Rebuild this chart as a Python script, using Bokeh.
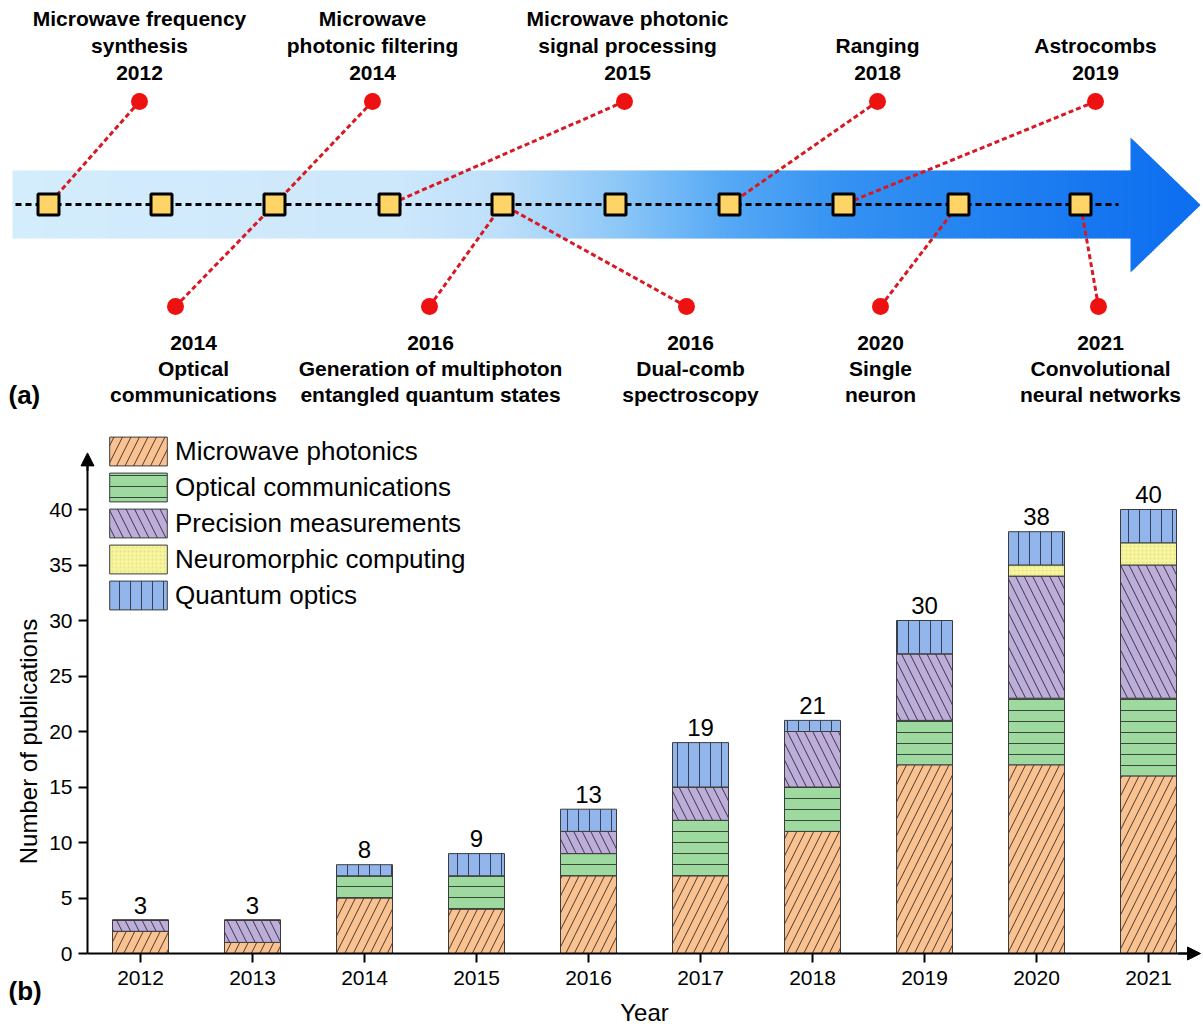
import numpy as np
from bokeh.plotting import figure
from bokeh.models import (Range1d, ColumnDataSource, FixedTicker, Legend, LegendItem, Arrow,
                          NormalHead)
from bokeh.embed import file_html
from bokeh.resources import INLINE
from bokeh.core.properties import value

FONT = "Liberation Sans"

# ---------------- data ----------------
years = ["2012", "2013", "2014", "2015", "2016", "2017", "2018", "2019", "2020", "2021"]
microwave = [2, 1, 5, 4, 7, 7, 11, 17, 17, 16]
optical = [0, 0, 2, 3, 2, 5, 4, 4, 6, 7]
precision = [1, 2, 0, 0, 2, 3, 5, 6, 11, 12]
neuromorphic = [0, 0, 0, 0, 0, 0, 0, 0, 1, 2]
quantum = [0, 0, 1, 2, 2, 4, 1, 3, 3, 3]
series_names = ["Microwave photonics", "Optical communications", "Precision measurements",
                "Neuromorphic computing", "Quantum optics"]
y_ticks = [0, 5, 10, 15, 20, 25, 30, 35, 40]

top_titles = [["Microwave frequency", "synthesis"], ["Microwave", "photonic filtering"],
              ["Microwave photonic", "signal processing"], ["Ranging"], ["Astrocombs"]]
top_years = ["2012", "2014", "2015", "2018", "2019"]
bottom_titles = [["Optical", "communications"],
                 ["Generation of multiphoton", "entangled quantum states"],
                 ["Dual-comb", "spectroscopy"], ["Single", "neuron"],
                 ["Convolutional", "neural networks"]]
bottom_years = ["2014", "2016", "2016", "2020", "2021"]

# ---------------- layout constants (page pixels for panel a) ----------------
W, H = 1203, 1030
square_x = [48, 161, 274, 389, 502, 615, 729, 843, 958, 1080]
top_dot_x = [139, 372, 624, 877, 1095]
top_sq = [0, 2, 3, 6, 7]
top_text_x = [139, 372, 627, 877, 1095]
bot_dot_x = [175, 429, 686, 880, 1098]
bot_sq = [2, 4, 4, 8, 9]
bot_text_x = [193, 430, 690, 880, 1100]
AX = 204
TOP_DOT_Y = 101
BOT_DOT_Y = 306
TOP_LINE_Y = [18, 45, 72]
BOT_LINE_Y = [342, 368, 394]

# bar-chart data space: year index -> page x = 140 + 112*i ; value -> page y = 953 - 11.1*v
XC, XS = 140.0, 112.0
YC, YS = 953.0, 11.1
X0 = (87 - XC) / XS          # y-axis position
XEND = (1200 - XC) / XS      # x-axis arrow tip

p = figure(width=W, height=H,
           x_range=Range1d(-XC / XS, (W - XC) / XS),
           y_range=Range1d((YC - H) / YS, YC / YS),
           output_backend="svg", toolbar_location=None, min_border=0)
p.extra_x_ranges = {"px": Range1d(0, W)}
p.extra_y_ranges = {"py": Range1d(H, 0)}
p.xgrid.visible = False
p.ygrid.visible = False
p.outline_line_color = None
PX = dict(x_range_name="px", y_range_name="py")

# ---------------- panel (a): timeline ----------------
band_top, band_bot = 170, 238
band_x0, head_x0, head_x1 = 12, 1130, 1200
head_top, head_bot = 137, 272
stop_x = [12, 400, 500, 615, 729, 843, 958, 1080, 1200]
stop_rgb = np.array([[212, 237, 252], [205, 231, 251], [190, 223, 250], [142, 200, 247],
                     [85, 168, 245], [53, 146, 242], [37, 133, 241], [24, 120, 240],
                     [12, 110, 240]], dtype=float)


def grad(x):
    return "#%02x%02x%02x" % tuple(int(round(np.interp(x, stop_x, stop_rgb[:, k]))) for k in range(3))


step = 3
bx = np.arange(band_x0, head_x0, step)
p.quad(left=bx, right=np.minimum(bx + step + 1, head_x0 + 1), top=band_top, bottom=band_bot,
       fill_color=[grad(x + step / 2) for x in bx], line_color=None, **PX)

hc = (head_top + head_bot) / 2
hh = (head_bot - head_top) / 2
hx = np.arange(head_x0, head_x1, 2)
pxs, pys, pcs = [], [], []
for x0 in hx:
    x1 = min(x0 + 3, head_x1)
    h0 = hh * (head_x1 - x0) / (head_x1 - head_x0)
    h1 = hh * (head_x1 - x1) / (head_x1 - head_x0)
    pxs.append([x0, x1, x1, x0])
    pys.append([hc - h0, hc - h1, hc + h1, hc + h0])
    pcs.append(grad(x0 + 1))
p.patches(pxs, pys, fill_color=pcs, line_color=None, **PX)

p.line([15, 1118], [AX, AX], line_color="black", line_width=3, line_dash="6 4", **PX)

RED_LINE = "#d81822"
p.segment(x0=top_dot_x, y0=[TOP_DOT_Y] * 5, x1=[square_x[i] for i in top_sq], y1=[AX] * 5,
          line_color=RED_LINE, line_width=3, line_dash="5 3", **PX)
p.segment(x0=bot_dot_x, y0=[BOT_DOT_Y] * 5, x1=[square_x[i] for i in bot_sq], y1=[AX] * 5,
          line_color=RED_LINE, line_width=3, line_dash="5 3", **PX)

p.scatter(square_x, [AX] * len(square_x), marker="square", size=21, fill_color="#fdd465",
          line_color="black", line_width=3, **PX)
p.scatter(top_dot_x + bot_dot_x, [TOP_DOT_Y] * 5 + [BOT_DOT_Y] * 5, marker="circle", size=17,
          fill_color="#ee1111", line_color=None, **PX)

tx, ty, tt = [], [], []
for x, title, yr in zip(top_text_x, top_titles, top_years):
    lines = title + [yr]
    for yy, s in zip(TOP_LINE_Y[3 - len(lines):], lines):
        tx.append(x); ty.append(yy); tt.append(s)
for x, title, yr in zip(bot_text_x, bottom_titles, bottom_years):
    lines = [yr] + title
    for yy, s in zip(BOT_LINE_Y[:len(lines)], lines):
        tx.append(x); ty.append(yy); tt.append(s)
p.text(x=tx, y=ty, text=tt, text_font=value(FONT), text_font_style="bold",
       text_font_size="21px", text_align="center", text_baseline="middle", text_color="black", **PX)
p.text(x=[8], y=[394], text=["(a)"], text_font=value(FONT), text_font_style="bold",
       text_font_size="26px", text_align="left", text_baseline="middle", text_color="black", **PX)

# ---------------- panel (b): stacked bars ----------------
src = ColumnDataSource(dict(x=list(range(len(years))), microwave=microwave, optical=optical,
                            precision=precision, neuromorphic=neuromorphic, quantum=quantum))
stackers = ["microwave", "optical", "precision", "neuromorphic", "quantum"]
fills = ["#f9c290", "#9ed9a0", "#bcaed8", "#f6f59e", "#92b5ec"]
hatches = ["/", "-", "\\", ".", "|"]
hcolors = ["#4a3a30", "#3a4a3a", "#3a3548", "#e4e385", "#34405a"]
hscales = [17, 11, 17, 4, 11]
hweights = [1, 1, 1, 0.6, 1]
rs = p.vbar_stack(stackers, x="x", width=0.5, source=src, fill_color=fills,
                  line_color="#3c3c3c", line_width=1, hatch_pattern=hatches,
                  hatch_color=hcolors, hatch_scale=hscales, hatch_weight=hweights)

totals = [sum(v) for v in zip(microwave, optical, precision, neuromorphic, quantum)]
p.text(x=list(range(len(years))), y=[t + 0.6 for t in totals], text=[str(t) for t in totals],
       text_font=value(FONT), text_font_size="24px", text_align="center",
       text_baseline="bottom", text_color="black")

for ax in (p.xaxis, p.yaxis):
    ax.axis_line_color = None
    ax.major_tick_line_width = 2
    ax.major_tick_line_color = "black"
    ax.major_tick_in = 0
    ax.major_tick_out = 9
    ax.minor_tick_line_color = None
    ax.major_label_text_font = FONT
    ax.major_label_text_font_size = "21px"
    ax.major_label_text_color = "black"
p.yaxis.fixed_location = X0
p.yaxis.ticker = FixedTicker(ticks=y_ticks)
p.yaxis.major_label_standoff = 6
p.xaxis.fixed_location = 0
p.xaxis.ticker = FixedTicker(ticks=list(range(len(years))))
p.xaxis.major_label_overrides = {i: y for i, y in enumerate(years)}
p.xaxis.major_label_standoff = 8

# axis lines with arrow heads
p.segment(x0=[X0, X0], y0=[0, 0], x1=[X0, XEND - 0.05], y1=[44.5, 0], line_color="black",
          line_width=2)
p.add_layout(Arrow(end=NormalHead(size=13, fill_color="black", line_color="black", line_width=1),
                   x_start=X0, y_start=43.5, x_end=X0, y_end=45.1, line_color="black", line_width=2))
p.add_layout(Arrow(end=NormalHead(size=13, fill_color="black", line_color="black", line_width=1),
                   x_start=XEND - 0.2, y_start=0, x_end=XEND, y_end=0, line_color="black",
                   line_width=2))

legend = Legend(items=[LegendItem(label=n, renderers=[r]) for n, r in zip(series_names, rs)],
                location=(102, 417), glyph_width=72, glyph_height=36, label_height=36,
                spacing=-4, padding=0, margin=0, border_line_color=None,
                background_fill_alpha=0, label_text_font=FONT, label_text_font_size="26px",
                label_standoff=1, label_text_color="black")
p.add_layout(legend)

p.text(x=[(28 - XC) / XS], y=[(YC - 741) / YS], text=["Number of publications"], angle=np.pi / 2,
       text_font=value(FONT), text_font_size="24px", text_align="center",
       text_baseline="middle", text_color="black")
p.text(x=[(644 - XC) / XS], y=[(YC - 1012) / YS], text=["Year"], text_font=value(FONT),
       text_font_size="24px", text_align="center", text_baseline="middle", text_color="black")
p.text(x=[(8 - XC) / XS], y=[(YC - 990) / YS], text=["(b)"], text_font=value(FONT),
       text_font_style="bold", text_font_size="26px", text_align="left",
       text_baseline="middle", text_color="black")

open("out.html", "w").write(file_html(p, INLINE))
